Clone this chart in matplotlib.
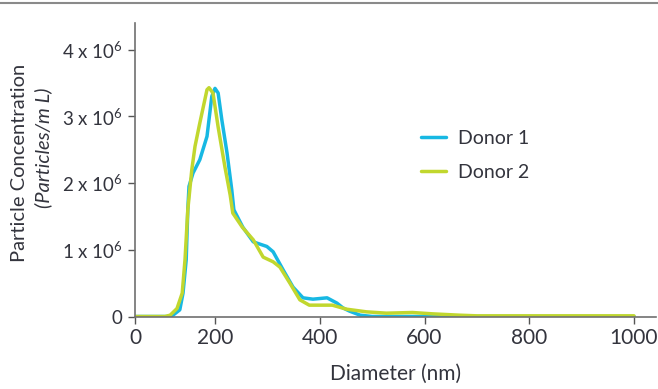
import numpy as np
import matplotlib
matplotlib.use("Agg")
import matplotlib.pyplot as plt
from matplotlib.lines import Line2D

plt.rcParams['font.family'] = ['Lato', 'DejaVu Sans']
plt.rcParams['mathtext.fontset'] = 'custom'
plt.rcParams['mathtext.rm'] = 'Lato'
plt.rcParams['mathtext.it'] = 'Lato:italic'

# Donor 1 (diameter nm, particles/mL in millions)
d1_x = [0, 80, 95, 112, 120, 128, 132, 135, 145, 162, 180, 192, 200, 206, 213, 223,
        232, 236, 253, 273, 280, 299, 311, 330, 349, 368, 387, 414, 433, 444, 457,
        477, 500, 600, 1000]
d1_y = [0, 0, 0.02, 0.1, 0.35, 0.85, 1.6, 1.95, 2.15, 2.35, 2.7, 3.3, 3.42, 3.35,
        2.95, 2.45, 1.9, 1.6, 1.34, 1.12, 1.1, 1.05, 0.97, 0.7, 0.44, 0.28, 0.26,
        0.28, 0.2, 0.13, 0.08, 0.02, 0.0, 0.0, 0.0]

# Donor 2
d2_x = [0, 75, 88, 105, 118, 125, 132, 142, 150, 162, 180, 185, 195, 206, 219, 229,
        234, 252, 273, 292, 311, 324, 343, 362, 380, 424, 451, 489, 527, 577, 615,
        666, 700, 1000]
d2_y = [0, 0, 0.02, 0.12, 0.35, 0.85, 1.6, 2.2, 2.55, 2.9, 3.4, 3.43, 3.35, 2.84,
        2.24, 1.82, 1.55, 1.34, 1.15, 0.89, 0.82, 0.74, 0.5, 0.25, 0.17, 0.17, 0.11,
        0.07, 0.05, 0.06, 0.04, 0.02, 0.01, 0.01]

x_ticks = [0, 200, 400, 600, 800, 1000]
y_ticks = [0, 1e6, 2e6, 3e6, 4e6]
y_labels = ['0', '1 x 10$^{6}$', '2 x 10$^{6}$', '3 x 10$^{6}$', '4 x 10$^{6}$']

blue = '#17b8e3'
green = '#c1d72e'
txt = '#33343d'
axc = '#707070'


# the original axis is stretched unevenly: 0-200 is shorter than later steps
def fwd(x):
    x = np.asarray(x, dtype=float)
    return np.where(x < 200, x * 0.4, 80 + (x - 200) * 0.52375)


def inv(u):
    u = np.asarray(u, dtype=float)
    return np.where(u < 80, u / 0.4, 200 + (u - 80) / 0.52375)


fig = plt.figure(figsize=(6.58, 3.89), dpi=100)
ax = fig.add_axes([135 / 658, 72.5 / 389, 521 / 658, 293.5 / 389])
ax.set_xscale('function', functions=(fwd, inv))

ax.plot(d1_x, np.array(d1_y) * 1e6, color=blue, lw=2.5, label='Donor 1',
        solid_capstyle='round', solid_joinstyle='round')
ax.plot(d2_x, np.array(d2_y) * 1e6, color=green, lw=2.5, label='Donor 2',
        solid_capstyle='round', solid_joinstyle='round')

ax.set_xlim(0, 1042)
ax.set_ylim(0, 4.4e6)
ax.set_xticks(x_ticks)
ax.set_xticklabels([str(t) for t in x_ticks])
ax.set_yticks(y_ticks)
ax.set_yticklabels(y_labels)
ax.minorticks_off()

for s in ['top', 'right']:
    ax.spines[s].set_visible(False)
for s in ['left', 'bottom']:
    ax.spines[s].set_color(axc)
    ax.spines[s].set_linewidth(1.2)
ax.tick_params(axis='x', length=5, width=1, color='#555555', labelsize=15,
               labelcolor=txt, pad=3)
ax.tick_params(axis='y', length=5, width=1, color='#555555', labelsize=13.5,
               labelcolor=txt, pad=4)

ax.set_xlabel('Diameter (nm)', fontsize=15, color=txt, labelpad=12)
fig.text(20 / 658, 1 - 163 / 389, 'Particle Concentration', rotation=90,
         ha='center', va='center', fontsize=14.5, color=txt)
fig.text(43 / 658, 1 - 148 / 389, '(Particles/m L)', rotation=90, style='italic',
         ha='center', va='center', fontsize=14.5, color=txt)

leg = ax.legend(loc='upper left', bbox_to_anchor=(286 / 521, 1 - 107 / 293.5),
                frameon=False, fontsize=14, handlelength=1.3, handletextpad=0.6,
                labelspacing=0.88, borderpad=0, borderaxespad=0)
for t in leg.get_texts():
    t.set_color(txt)

fig.add_artist(Line2D([0, 1], [1 - 3 / 389, 1 - 3 / 389], color='#8a8a8a', lw=1.5))

fig.savefig('out.png', dpi=100)
